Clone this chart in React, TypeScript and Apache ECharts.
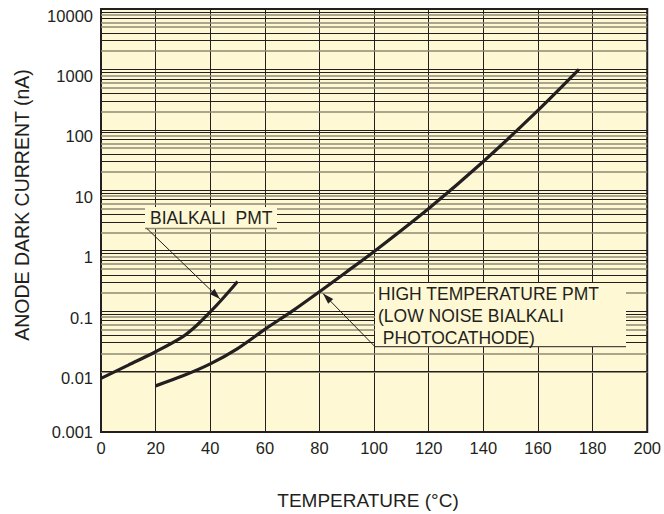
import React, { useEffect, useRef } from "react";
import * as echarts from "echarts";

// Curve data (temperature in °C, anode dark current in nA)
const tempBialkali = [0, 10, 20, 30, 35, 40, 45, 50];
const currentBialkali = [0.0077, 0.0128, 0.0213, 0.038, 0.058, 0.097, 0.17, 0.31];
const tempHighTemp = [20, 30, 40, 50, 60, 70, 80, 90, 100, 120, 140, 160, 175];
const currentHighTemp = [0.0058, 0.0085, 0.0134, 0.024, 0.05, 0.1, 0.21, 0.45, 0.97, 5.0, 30, 210, 1000];

// Axis settings
const xTicks = [0, 20, 40, 60, 80, 100, 120, 140, 160, 180, 200];
const yDecades = [0.001, 0.01, 0.1, 1, 10, 100, 1000, 10000];
const minorMultipliers = [2, 3, 4, 5, 6, 7, 8, 9];
const darkMinor = [3, 4, 7, 9];

const INK = "#231F20";
const GRAY_LINE = "#8F8A72";
const BG = "#FFF8D4";
const FONT = "'Liberation Sans', Arial, Helvetica, sans-serif";

function arrowHead(sx: number, sy: number, tx: number, ty: number, len = 11, half = 3.5) {
  const dx = tx - sx;
  const dy = ty - sy;
  const l = Math.sqrt(dx * dx + dy * dy);
  const ux = dx / l;
  const uy = dy / l;
  const bx = tx - ux * len;
  const by = ty - uy * len;
  const px = -uy * half;
  const py = ux * half;
  return [
    [tx, ty],
    [bx + px, by + py],
    [bx - px, by - py],
  ];
}

export default function App() {
  const ref = useRef<HTMLDivElement>(null);

  useEffect(() => {
    if (!ref.current) return;
    const chart = echarts.init(ref.current, null, { renderer: "svg" });

    const minorLines: any[] = [];
    yDecades.slice(0, -1).forEach((d) => {
      minorMultipliers.forEach((k) => {
        const dark = darkMinor.includes(k);
        minorLines.push({
          yAxis: d * k,
          lineStyle: {
            color: dark ? INK : GRAY_LINE,
            width: dark ? 1 : 1.6,
            type: "solid",
          },
        });
      });
    });

    const bialData = tempBialkali.map((t, i) => [t, currentBialkali[i]]);
    const highData = tempHighTemp.map((t, i) => [t, currentHighTemp[i]]);

    const a1s = [146.7, 228.3];
    const a1t = [220, 299];
    const a2s = [375, 346.7];
    const a2t = [323, 293.5];

    chart.setOption({
      animation: false,
      grid: {
        left: 101,
        right: 12,
        top: 9,
        bottom: 82,
        show: true,
        backgroundColor: BG,
        borderColor: INK,
        borderWidth: 2,
      },
      xAxis: {
        type: "value",
        min: xTicks[0],
        max: xTicks[xTicks.length - 1],
        interval: 20,
        axisLine: { show: false },
        axisTick: { show: false },
        splitLine: { show: true, lineStyle: { color: INK, width: 1 } },
        axisLabel: {
          color: INK,
          fontFamily: FONT,
          fontSize: 16.5,
          margin: 7,
        },
      },
      yAxis: {
        type: "log",
        logBase: 10,
        min: yDecades[0],
        max: yDecades[yDecades.length - 1],
        axisLine: { show: false },
        axisTick: { show: false },
        splitLine: { show: true, lineStyle: { color: INK, width: 1 } },
        axisLabel: {
          color: INK,
          fontFamily: FONT,
          fontSize: 16.5,
          margin: 8,
          formatter: (v: number) => {
            const label = yDecades.find((d) => Math.abs(Math.log10(d) - Math.log10(v)) < 1e-6);
            const txt = label === undefined ? "" : String(label);
            return v <= 0.0011 ? `{b|${txt}}` : `{a|${txt}}`;
          },
          rich: {
            a: { padding: [13, 0, 0, 0], fontSize: 16.5, fontFamily: FONT, color: INK },
            b: { fontSize: 16.5, fontFamily: FONT, color: INK },
          },
        },
      },
      series: [
        {
          type: "line",
          data: [],
          z: 1,
          silent: true,
          markLine: {
            silent: true,
            symbol: ["none", "none"],
            label: { show: false },
            emphasis: { disabled: true },
            animation: false,
            data: minorLines,
          },
        },
        {
          name: "BIALKALI PMT",
          type: "line",
          data: bialData,
          smooth: 0.3,
          showSymbol: false,
          z: 5,
          lineStyle: { color: INK, width: 3.2 },
        },
        {
          name: "HIGH TEMPERATURE PMT",
          type: "line",
          data: highData,
          smooth: 0.3,
          showSymbol: false,
          z: 5,
          lineStyle: { color: INK, width: 3.2 },
        },
      ],
      graphic: [
        // Y title
        {
          type: "text",
          x: 22,
          y: 205,
          rotation: Math.PI / 2,
          style: {
            text: "ANODE DARK CURRENT (nA)",
            font: `19.5px ${FONT}`,
            fill: INK,
            align: "center",
            verticalAlign: "middle",
          },
        },
        // X title
        {
          type: "text",
          x: 368,
          y: 500,
          style: {
            text: "TEMPERATURE (°C)",
            font: `19px ${FONT}`,
            fill: INK,
            align: "center",
            verticalAlign: "middle",
          },
        },
        // Bialkali label box
        {
          type: "rect",
          shape: { x: 145, y: 207, width: 132, height: 21 },
          style: { fill: BG },
          z: 10,
        },
        {
          type: "line",
          shape: { x1: 145, y1: 228.5, x2: 277, y2: 228.5 },
          style: { stroke: GRAY_LINE, lineWidth: 1.5 },
          z: 11,
        },
        {
          type: "text",
          x: 150,
          y: 218,
          style: {
            text: "BIALKALI  PMT",
            font: `17.5px ${FONT}`,
            fill: INK,
            verticalAlign: "middle",
          },
          z: 11,
        },
        {
          type: "line",
          shape: { x1: a1s[0], y1: a1s[1], x2: a1t[0], y2: a1t[1] },
          style: { stroke: INK, lineWidth: 1 },
          z: 11,
        },
        {
          type: "polygon",
          shape: { points: arrowHead(a1s[0], a1s[1], a1t[0], a1t[1]) },
          style: { fill: INK },
          z: 11,
        },
        // High temperature label box
        {
          type: "rect",
          shape: { x: 375, y: 283, width: 251, height: 64 },
          style: { fill: BG },
          z: 10,
        },
        {
          type: "line",
          shape: { x1: 375, y1: 346.7, x2: 626, y2: 346.7 },
          style: { stroke: INK, lineWidth: 1 },
          z: 11,
        },
        {
          type: "text",
          x: 378,
          y: 294,
          style: { text: "HIGH TEMPERATURE PMT", font: `17.5px ${FONT}`, fill: INK, verticalAlign: "middle" },
          z: 11,
        },
        {
          type: "text",
          x: 378,
          y: 316,
          style: { text: "(LOW NOISE BIALKALI", font: `17.5px ${FONT}`, fill: INK, verticalAlign: "middle" },
          z: 11,
        },
        {
          type: "text",
          x: 378,
          y: 338,
          style: { text: " PHOTOCATHODE)", font: `17.5px ${FONT}`, fill: INK, verticalAlign: "middle" },
          z: 11,
        },
        {
          type: "line",
          shape: { x1: a2s[0], y1: a2s[1], x2: a2t[0], y2: a2t[1] },
          style: { stroke: INK, lineWidth: 1 },
          z: 11,
        },
        {
          type: "polygon",
          shape: { points: arrowHead(a2s[0], a2s[1], a2t[0], a2t[1]) },
          style: { fill: INK },
          z: 11,
        },
      ],
    });

    return () => chart.dispose();
  }, []);

  return (
    <div
      ref={ref}
      style={{ position: "fixed", left: 0, top: 0, width: 664, height: 514, background: "#fff" }}
    />
  );
}
